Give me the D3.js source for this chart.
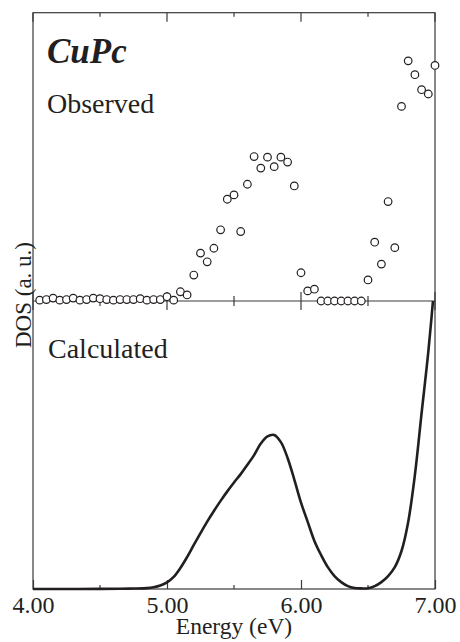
<!DOCTYPE html>
<html>
<head>
<meta charset="utf-8">
<script src="https://cdn.jsdelivr.net/npm/d3@7"></script>
<style>
  body { margin: 0; background: #fff; }
  text { font-family: "Liberation Serif", "Times New Roman", serif; fill: #231f20; }
</style>
</head>
<body>
<div id="chart"></div>
<script>
// Observed spectrum (open circles), 0.05 eV steps from 4.05 to 7.00 eV
const obsEnergy = d3.range(60).map(i => +(4.05 + i * 0.05).toFixed(2));
const obsValues = [
  0.3, 0.5, 1.0, 0.3, 0.5, 1.0, 0.3, 0.5, 1.0, 0.8,
  0.5, 0.3, 0.5, 0.5, 0.5, 0.8, 0.3, 0.5, 0.5,
  1.5, 0.3, 3.2, 2.1, 9.0, 16.6, 13.6, 18.3, 24.7, 35.3,
  36.8, 24.1, 40.5, 50.1, 46.1, 49.9, 46.6, 49.9, 48.2, 39.9,
  9.8, 3.5, 4.1,
  0, 0, 0, 0, 0, 0, 0,
  7.3, 20.4, 12.8, 34.5, 18.5, 67.5, 83.3, 78.5, 73.3, 71.8, 81.7
];

// Calculated DOS curve
const calcEnergy = [4.00, 4.25, 4.50, 4.65, 4.75, 4.85, 4.90, 4.95, 5.00, 5.05,
  5.10, 5.15, 5.20, 5.25, 5.30, 5.35, 5.40, 5.45, 5.50, 5.55,
  5.60, 5.65, 5.70, 5.75, 5.80, 5.85, 5.90, 5.95, 6.00, 6.05,
  6.10, 6.15, 6.20, 6.25, 6.30, 6.35, 6.40, 6.45, 6.50, 6.55,
  6.60, 6.65, 6.70, 6.75, 6.80, 6.85, 6.90, 6.95, 7.00];
const calcValues = [0, 0, 0.03, 0.08, 0.15, 0.3, 0.6, 1.2, 2.3, 4.2,
  7.3, 11.1, 15.3, 19.4, 23.4, 27.1, 30.6, 33.9, 37.0, 39.9,
  43.1, 46.5, 50.5, 53.0, 53.5, 51.0, 45.5, 38.0, 30.0, 23.3,
  16.7, 11.8, 7.6, 4.5, 2.4, 1.0, 0.35, 0.2, 0.25, 1.0,
  2.4, 4.5, 7.6, 13.2, 23.3, 39.6, 61.1, 82.3, 108];

const majorTicks = [4, 5, 6, 7];
const minorTicks = [4.5, 5.5, 6.5];
const tickLabels = ["4.00", "5.00", "6.00", "7.00"];

const width = 460, height = 642;
const plotLeft = 33, plotRight = 435, plotTop = 12.7, plotMid = 301, plotBottom = 589;
const ink = "#231f20", axisInk = "#3a3a3a";

const svg = d3.select("#chart").append("svg")
  .attr("width", width).attr("height", height);

const x = d3.scaleLinear().domain([4, 7]).range([plotLeft, plotRight]);
const yObs = d3.scaleLinear().domain([0, 100]).range([plotMid, plotTop]);
const yCalc = d3.scaleLinear().domain([0, 100]).range([plotBottom, plotMid]);

// frame
svg.append("rect")
  .attr("x", plotLeft).attr("y", plotTop)
  .attr("width", plotRight - plotLeft).attr("height", plotBottom - plotTop)
  .attr("fill", "none").attr("stroke", axisInk).attr("stroke-width", 1.2);

// helper for tick rows
function tickRow(y, values, up, down) {
  svg.append("g").selectAll("line")
    .data(values).join("line")
    .attr("x1", d => x(d)).attr("x2", d => x(d))
    .attr("y1", y - up).attr("y2", y + down)
    .attr("stroke", axisInk).attr("stroke-width", 1.2);
}

// top axis: ticks pointing in
tickRow(plotTop, majorTicks, 0, 9);
tickRow(plotTop, minorTicks, 0, 4);
// middle axis: ticks crossing
svg.append("line")
  .attr("x1", plotLeft).attr("x2", plotRight).attr("y1", plotMid).attr("y2", plotMid)
  .attr("stroke", axisInk).attr("stroke-width", 1.2);
tickRow(plotMid, majorTicks, 9, 9);
tickRow(plotMid, minorTicks, 5, 5);

// bottom axis with labels
const xAxis = d3.axisBottom(x)
  .tickValues(majorTicks)
  .tickSizeInner(-9).tickSizeOuter(0).tickPadding(7)
  .tickFormat((d, i) => tickLabels[i]);
const gx = svg.append("g")
  .attr("transform", `translate(0,${plotBottom})`)
  .call(xAxis);
gx.select(".domain").remove();
gx.selectAll("line").attr("stroke", axisInk).attr("stroke-width", 1.2);
gx.selectAll("text")
  .attr("font-size", 24).attr("fill", ink);
tickRow(plotBottom, minorTicks, 4, 0);

// calculated curve, clipped to lower panel
svg.append("clipPath").attr("id", "calcClip")
  .append("rect")
  .attr("x", plotLeft).attr("y", plotMid)
  .attr("width", plotRight - plotLeft).attr("height", plotBottom - plotMid + 2);

const line = d3.line()
  .x((d, i) => x(calcEnergy[i]))
  .y(d => yCalc(d))
  .curve(d3.curveCatmullRom.alpha(0.5));

svg.append("path")
  .datum(calcValues)
  .attr("clip-path", "url(#calcClip)")
  .attr("d", line)
  .attr("fill", "none")
  .attr("stroke", ink)
  .attr("stroke-width", 2.6)
  .attr("stroke-linejoin", "round");

// observed points
svg.append("g").selectAll("circle")
  .data(obsValues).join("circle")
  .attr("cx", (d, i) => x(obsEnergy[i]))
  .attr("cy", d => yObs(d))
  .attr("r", 3.8)
  .attr("fill", "#fff")
  .attr("stroke", ink)
  .attr("stroke-width", 1.2);

// labels
svg.append("text")
  .attr("x", 47).attr("y", 63)
  .attr("font-size", 35).attr("font-weight", "bold").attr("font-style", "italic")
  .text("CuPc");
svg.append("text")
  .attr("x", 47).attr("y", 113)
  .attr("font-size", 28)
  .text("Observed");
svg.append("text")
  .attr("x", 48).attr("y", 358)
  .attr("font-size", 28)
  .text("Calculated");
svg.append("text")
  .attr("x", 234).attr("y", 634)
  .attr("text-anchor", "middle")
  .attr("font-size", 23.5)
  .text("Energy (eV)");
svg.append("text")
  .attr("transform", "translate(31,295) rotate(-90)")
  .attr("text-anchor", "middle")
  .attr("font-size", 23)
  .text("DOS (a. u.)");
</script>
</body>
</html>
